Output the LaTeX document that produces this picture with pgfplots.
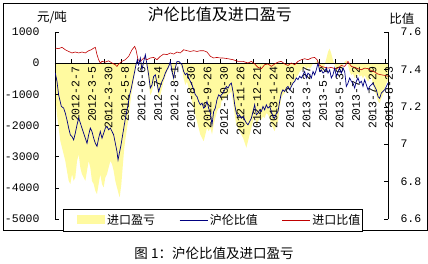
\documentclass[border=0pt]{standalone}
\usepackage{pgfplots}
\pgfplotsset{compat=1.18}
\usepackage{fontspec}
\setmainfont{Liberation Sans}
\newfontfamily\cjk{Noto Sans CJK SC}
\newfontfamily\tickfont{Liberation Mono}
\definecolor{areaY}{RGB}{255,250,160}
\definecolor{navyL}{RGB}{0,0,128}
\definecolor{redL}{RGB}{192,0,0}
\pgfplotsset{
  areaimg/.style={legend image code/.code={\path (0pt,0pt); \fill[##1] (14pt,-4.5pt) rectangle (42pt,4.5pt);}},
  lineimg/.style={legend image code/.code={\draw[##1] (0pt,0pt) -- (28pt,0pt);}},
}
\begin{document}
\begin{tikzpicture}[x=1pt,y=1pt]
\path[use as bounding box] (0pt,0pt) rectangle (428pt,263pt);
\draw[line width=0.8pt] (3pt,33pt) rectangle (427pt,260pt);
\begin{axis}[
  at={(55pt,44pt)}, anchor=south west,
  width=333pt, height=187pt, scale only axis,
  xmin=0, xmax=403.6, ymin=-5000, ymax=1000,
  axis x line*=middle, axis y line*=left,
  axis on top,
  axis line style={line width=0.7pt},
  xtick={0,20,...,400},
  xticklabels={2012-1-4,2012-2-7,2012-3-5,2012-3-30,2012-5-8,2012-6-6,2012-7-4,2012-8-1,2012-8-30,2012-9-26,2012-10-30,2012-11-26,2012-12-21,2013-1-24,2013-2-28,2013-3-27,2013-5-2,2013-5-30,2013-7-2,2013-7-29,2013-8-23},
  xticklabel style={rotate=90, anchor=east, yshift=-4pt, font=\fontsize{11.5}{12}\tickfont},
  ytick={-5000,-4000,-3000,-2000,-1000,0,1000},
  yticklabels={-5000,-4000,-3000,-2000,-1000,0,1000},
  yticklabel style={font=\fontsize{11.5}{12}\tickfont, xshift=-12pt},
  xtick align=inside, ytick align=inside,
  major tick length=4pt,
  tick style={black, line width=0.6pt},
  ylabel={元/吨},
  ylabel style={rotate=-90, at={(axis description cs:-0.009,1.08)}, anchor=center, font=\fontsize{12.5}{13}\cjk},
  title={沪伦比值及进口盈亏},
  title style={at={(axis description cs:0.495,1.064)}, anchor=center, font=\fontsize{16}{17}\cjk},
  legend columns=3,
  legend cell align=left,
  legend style={at={(axis description cs:0.024,-0.064)}, anchor=south west, draw=black, fill=white,
    font=\fontsize{12}{13}\cjk, /tikz/every even column/.append style={column sep=22pt},
    inner xsep=0pt, inner ysep=3pt},
]
\addplot[fill=areaY, draw=none, areaimg] table {
0.4 -1018
2.4 -1654
4.4 -2078
6.5 -2502
8.5 -2714
10.5 -2926
12.5 -3138
14.5 -3456
16.6 -3774
18.6 -3880
20.6 -3562
22.6 -3774
24.6 -3668
26.7 -3138
28.7 -2926
30.7 -3350
32.7 -3562
34.7 -3668
36.8 -3774
38.8 -3456
40.8 -3138
42.8 -3350
44.8 -3774
46.9 -3880
48.9 -4092
50.9 -4198
52.9 -3880
54.9 -3562
57.0 -3880
59.0 -3986
61.0 -3668
63.0 -3562
65.0 -3350
67.1 -3138
69.1 -3244
71.1 -3456
73.1 -3774
75.1 -3986
77.2 -4198
78.4 -4304
80.4 -3880
82.0 -3350
84.0 -2703
86.1 -2290
88.5 -1866
90.5 -1442
92.5 -1018
94.5 -700
96.6 -382
98.2 -64
99.8 42
102.2 0
104.6 -276
107.5 -64
109.5 42
111.5 -170
113.5 -594
115.5 -1018
117.6 -912
119.6 -647
121.6 -488
123.6 -806
125.6 -1124
127.7 -1018
129.7 -806
131.7 -594
133.7 -435
135.7 -276
137.8 -170
139.8 42
141.8 -382
143.8 -594
145.8 -276
147.9 42
149.9 42
151.9 -64
153.9 -170
155.9 -488
158.0 -700
160.0 -594
162.0 -806
164.0 -1018
166.0 -1230
168.1 -1442
170.1 -1654
172.1 -1866
174.1 -2078
176.1 -2290
178.2 -2396
180.2 -2502
182.2 -2290
184.2 -2078
186.2 -2184
188.3 -2078
190.3 -2290
192.3 -1972
194.3 -1760
196.3 -1548
198.4 -1442
200.4 -1442
201.6 -1230
205.6 -1124
209.7 -1018
213.7 -912
215.7 -1230
217.8 -1654
219.8 -1972
221.8 -2078
223.8 -2184
225.8 -2290
227.9 -2396
229.9 -2555
231.9 -2714
233.9 -2502
235.9 -2290
238.0 -2078
240.0 -1866
242.0 -1654
244.0 -1972
246.0 -1866
248.1 -1760
250.1 -1813
252.1 -1707
254.1 -1760
256.1 -1601
258.2 -1654
260.2 -1760
262.2 -1972
264.2 -2078
266.2 -2184
268.3 -1972
270.3 -1866
272.3 -1442
274.3 -1124
276.3 -1018
278.4 -965
280.4 -859
282.4 -806
284.4 -859
286.4 -753
288.5 -647
290.5 -541
292.5 -435
294.5 -382
296.5 -276
298.6 -223
300.6 -170
302.6 -64
304.6 -223
306.6 -117
308.7 -170
310.7 -117
312.7 0
314.7 0
316.7 42
318.8 95
320.8 -276
322.8 -170
324.8 -276
326.8 -64
328.9 148
330.9 360
332.9 466
334.9 307
336.9 95
339.0 -64
341.0 -276
343.0 -170
345.0 -64
347.0 -223
349.1 -64
351.1 42
353.1 95
355.1 -64
357.1 -276
359.2 -382
361.2 -329
363.2 -488
365.2 -382
367.2 -329
369.3 -435
371.3 -382
373.3 -488
375.3 -382
377.3 -488
379.4 -594
381.4 -488
383.4 -382
385.4 -700
387.4 -912
389.5 -1018
391.5 -1230
393.5 -1283
395.5 -1124
397.5 -1018
399.6 -806
401.6 -647
403.6 -541
} \closedcycle;
\addlegendentry{进口盈亏}
\addlegendimage{navyL, line width=0.7pt, lineimg}
\addlegendentry{沪伦比值}
\addlegendimage{redL, line width=0.6pt, lineimg}
\addlegendentry{进口比值}
\end{axis}
\begin{axis}[
  at={(55pt,44pt)}, anchor=south west,
  width=333pt, height=187pt, scale only axis,
  xmin=0, xmax=403.6, ymin=6.6, ymax=7.6,
  axis y line*=right, axis x line=none,
  axis line style={line width=0.7pt},
  ytick={6.6,6.8,7,7.2,7.4,7.6},
  yticklabels={6.6,6.8,7,7.2,7.4,7.6},
  ytick align=inside, major tick length=4pt,
  tick style={black, line width=0.6pt},
  yticklabel style={font=\fontsize{11.5}{12}\tickfont, xshift=9pt},
  ylabel={比值},
  ylabel style={rotate=-90, at={(axis description cs:1.042,1.07)}, anchor=center, font=\fontsize{12.5}{13}\cjk},
]
\addplot[redL, line width=0.6pt] table {
0.4 7.514
4.4 7.511
8.5 7.518
12.5 7.505
16.6 7.496
20.6 7.488
24.6 7.493
28.7 7.488
32.7 7.493
36.8 7.488
40.8 7.500
44.0 7.505
46.9 7.514
48.9 7.518
50.9 7.479
52.9 7.452
54.9 7.434
57.0 7.443
61.0 7.439
65.0 7.446
69.1 7.434
73.1 7.425
75.1 7.416
77.2 7.429
81.2 7.443
85.3 7.452
89.3 7.470
93.3 7.505
96.6 7.523
98.2 7.505
100.6 7.452
103.4 7.443
107.5 7.461
111.5 7.452
115.5 7.461
119.6 7.464
123.6 7.452
127.7 7.470
131.7 7.482
135.7 7.479
139.8 7.488
143.8 7.482
147.9 7.493
151.9 7.488
155.9 7.505
160.0 7.500
164.0 7.496
168.1 7.500
172.1 7.496
176.1 7.500
180.2 7.500
184.2 7.493
188.3 7.470
192.3 7.461
196.3 7.464
200.4 7.461
203.6 7.461
209.7 7.457
215.7 7.452
221.8 7.443
227.9 7.443
233.9 7.434
238.0 7.443
242.0 7.429
246.0 7.411
250.1 7.404
254.1 7.425
258.2 7.429
262.2 7.416
266.2 7.429
270.3 7.439
274.3 7.443
278.4 7.429
282.4 7.421
286.4 7.434
290.5 7.425
294.5 7.443
298.6 7.452
302.6 7.457
306.6 7.452
310.7 7.461
314.7 7.464
317.6 7.452
320.0 7.425
322.8 7.416
326.8 7.411
330.9 7.407
334.9 7.411
339.0 7.404
343.0 7.407
347.0 7.421
351.1 7.416
353.1 7.429
355.1 7.443
357.1 7.429
359.2 7.416
363.2 7.411
367.2 7.404
371.3 7.398
375.3 7.407
379.4 7.404
383.4 7.393
387.4 7.386
391.5 7.375
395.5 7.371
399.6 7.368
403.6 7.363
};
\addplot[navyL, line width=0.7pt] table {
0.4 7.380
2.4 7.336
4.4 7.264
7.7 7.202
10.5 7.193
12.5 7.166
14.5 7.130
16.6 7.086
18.6 7.050
20.6 7.041
22.6 7.023
24.6 7.059
26.7 7.104
28.7 7.139
30.7 7.113
32.7 7.086
34.7 7.059
36.8 7.032
38.8 7.005
40.8 7.050
42.8 7.086
44.8 7.068
46.9 7.032
48.9 7.005
50.9 6.988
52.9 7.032
54.9 7.068
57.0 7.032
59.0 7.059
61.0 7.086
63.0 7.095
65.0 7.077
67.1 7.086
69.1 7.068
71.1 7.050
73.1 7.005
75.1 6.961
76.4 6.916
78.0 6.952
80.0 6.996
82.0 7.050
84.0 7.104
86.1 7.157
88.5 7.211
90.5 7.264
92.5 7.300
94.5 7.345
96.6 7.389
98.2 7.425
99.8 7.452
101.4 7.425
103.4 7.461
105.4 7.398
107.5 7.443
109.5 7.479
111.5 7.425
113.5 7.371
115.5 7.300
117.6 7.318
119.6 7.363
121.6 7.371
123.6 7.327
125.6 7.282
127.7 7.309
129.7 7.336
131.7 7.354
133.7 7.380
135.7 7.398
137.8 7.416
139.8 7.443
141.8 7.389
143.8 7.354
145.8 7.407
147.9 7.443
149.9 7.443
151.9 7.434
153.9 7.425
155.9 7.389
158.0 7.371
160.0 7.380
162.0 7.354
164.0 7.336
166.0 7.318
168.1 7.291
170.1 7.264
172.1 7.255
174.1 7.229
176.1 7.211
178.2 7.220
180.2 7.193
182.2 7.202
184.2 7.229
186.2 7.193
188.3 7.166
190.3 7.104
192.3 7.175
194.3 7.193
196.3 7.238
198.4 7.264
200.4 7.255
201.6 7.264
203.6 7.273
205.6 7.291
207.7 7.309
209.7 7.300
211.7 7.318
213.7 7.327
215.7 7.282
217.8 7.211
219.8 7.166
221.8 7.148
223.8 7.157
225.8 7.139
227.9 7.148
229.9 7.130
231.9 7.113
233.9 7.104
235.9 7.121
238.0 7.139
240.0 7.175
242.0 7.211
244.0 7.157
246.0 7.166
248.1 7.184
250.1 7.175
252.1 7.202
254.1 7.184
256.1 7.211
258.2 7.193
260.2 7.202
262.2 7.175
264.2 7.148
266.2 7.139
268.3 7.166
270.3 7.175
272.3 7.229
274.3 7.273
276.3 7.291
278.4 7.282
280.4 7.300
282.4 7.309
284.4 7.291
286.4 7.309
288.5 7.327
290.5 7.336
292.5 7.354
294.5 7.345
296.5 7.363
298.6 7.354
300.6 7.371
302.6 7.389
304.6 7.354
306.6 7.380
308.7 7.371
310.7 7.354
312.7 7.389
314.7 7.371
316.7 7.398
318.8 7.434
320.8 7.389
322.8 7.398
324.8 7.380
326.8 7.389
328.9 7.407
330.9 7.380
332.9 7.398
334.9 7.354
336.9 7.371
339.0 7.407
341.0 7.363
343.0 7.389
345.0 7.407
347.0 7.380
349.1 7.407
351.1 7.389
353.1 7.309
355.1 7.327
357.1 7.354
359.2 7.336
361.2 7.327
363.2 7.300
365.2 7.336
367.2 7.354
369.3 7.327
371.3 7.336
373.3 7.309
375.3 7.345
377.3 7.318
379.4 7.291
381.4 7.309
383.4 7.318
385.4 7.327
387.4 7.309
389.5 7.291
391.5 7.255
393.5 7.246
395.5 7.273
397.5 7.282
399.6 7.291
401.6 7.309
403.6 7.327
};
\end{axis}
\node[font=\fontsize{13.5}{14}\cjk] at (214pt,10pt) {图 1：沪伦比值及进口盈亏};
\end{tikzpicture}
\end{document}
